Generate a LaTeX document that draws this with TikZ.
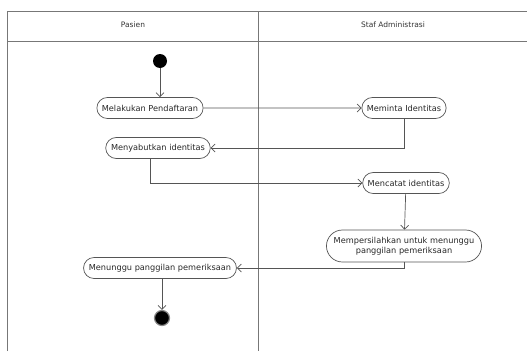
\documentclass[tikz,border=0pt]{standalone}
\usepackage{fontspec}
\setmainfont{DejaVu Sans}
\usetikzlibrary{arrows.meta,shapes.misc}
\definecolor{ln}{HTML}{555555}
\tikzset{
  act/.style={draw=ln, line width=0.7pt, rounded rectangle, inner xsep=4.5pt, inner ysep=0pt, minimum height=21pt, font=\fontsize{8.2}{10}\selectfont, text=black!85, align=center},
  flow/.style={draw=ln, line width=0.7pt, -{Straight Barb[length=4pt,width=8pt]}},
  lane/.style={draw=ln!80, line width=0.9pt},
  hdr/.style={font=\fontsize{7.5}{9}\selectfont, text=black!80}
}
\begin{document}
\begin{tikzpicture}[x=1pt,y=-1pt]
\useasboundingbox (0,0) rectangle (527,351);
% swimlanes
\draw[lane] (7,351) -- (7,11) -- (527,11);
\draw[lane] (7,41) -- (527,41);
\draw[lane] (258,11) -- (258,351);
\node[hdr] (h1) at (133,25) {Pasien};
\node[hdr] (h2) at (393,25) {Staf Administrasi};
% nodes
\node[circle, fill=black, minimum size=14pt, inner sep=0pt] (start) at (160,61) {};
\node[act] (a1) at (150,108) {Melakukan Pendaftaran};
\node[act] (a2) at (158,148) {Menyabutkan identitas};
\node[act] (b1) at (404,108) {Meminta Identitas};
\node[act] (b2) at (406,183) {Mencatat identitas};
\node[act, minimum height=32pt] (b3) at (404,246) {Mempersilahkan untuk menunggu\\panggilan pemeriksaan};
\node[act] (a3) at (160,268) {Menunggu panggilan pemeriksaan};
\node[circle, fill=black, draw=ln!70, line width=1.2pt, minimum size=15pt, inner sep=0pt] (end) at (162,318) {};
% flows
\draw[flow] (start) -- (start |- a1.north);
\draw[flow] (a1) -- (b1);
\draw[flow] (b1.south) |- (a2.east);
\draw[flow] (a2.south -| 150,0) |- (b2.west);
\draw[flow] (b2) -- (b3);
\draw[flow] (b3.south) |- (a3.east);
\draw[flow] (a3.south -| end) -- (end);
\end{tikzpicture}
\end{document}
